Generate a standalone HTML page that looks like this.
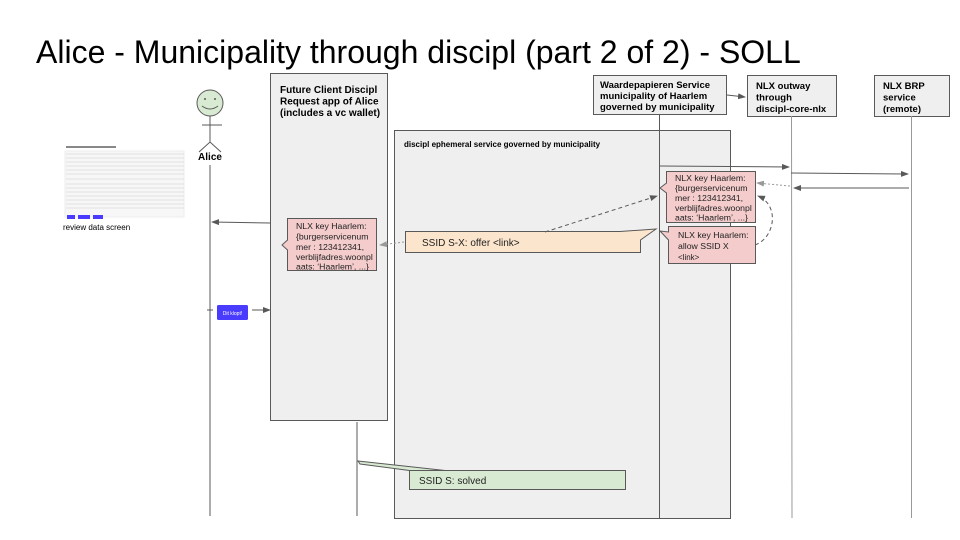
<!DOCTYPE html>
<html><head><meta charset="utf-8"><style>
html,body{margin:0;padding:0;background:#fff}
svg{display:block;font-family:"Liberation Sans",sans-serif}
</style></head><body>
<svg width="960" height="540" viewBox="0 0 960 540" xmlns="http://www.w3.org/2000/svg">
<defs>
<marker id="a" markerWidth="8" markerHeight="6" refX="7" refY="3" orient="auto"><path d="M0,0 L8,3 L0,6 z" fill="#595959"/></marker>
<marker id="g" markerWidth="8" markerHeight="6" refX="7" refY="3" orient="auto"><path d="M0,0 L8,3 L0,6 z" fill="#999"/></marker>
</defs>
<text x="36" y="63" font-size="32" fill="#000">Alice - Municipality through discipl (part 2 of 2) - SOLL</text>

<rect x="394.5" y="130.5" width="336" height="388" fill="#efefef" stroke="#595959"/>
<text x="404" y="147" font-size="8" font-weight="bold">discipl ephemeral service governed by municipality</text>

<rect x="270.5" y="73.5" width="117" height="347" fill="#efefef" stroke="#595959"/>
<text font-size="10" font-weight="bold"><tspan x="280" y="93">Future Client Discipl</tspan><tspan x="280" y="104.5">Request app of Alice</tspan><tspan x="280" y="116">(includes a vc wallet)</tspan></text>
<line x1="357" y1="422" x2="357" y2="516" stroke="#595959"/>

<circle cx="210" cy="103" r="13" fill="#d9ead3" stroke="#595959"/>
<circle cx="205" cy="99" r="1" fill="#595959"/><circle cx="215" cy="99" r="1" fill="#595959"/>
<path d="M202,106 Q210,112 218,106" fill="none" stroke="#595959"/>
<line x1="210" y1="116" x2="210" y2="142" stroke="#595959"/>
<line x1="202" y1="125" x2="222" y2="125" stroke="#595959"/>
<path d="M199,152 L210,142 L221,152" fill="none" stroke="#595959"/>
<text x="210" y="160" font-size="10" font-weight="bold" text-anchor="middle">Alice</text>
<line x1="210" y1="165" x2="210" y2="516" stroke="#595959"/>

<rect x="66" y="146" width="50" height="2" fill="#888"/>
<rect x="65" y="151" width="119" height="66" fill="#f7f7f7" stroke="#eee"/>
<g stroke="#ccc" stroke-width="0.6">
<line x1="66" y1="154" x2="184" y2="154"/><line x1="66" y1="158" x2="184" y2="158"/><line x1="66" y1="162" x2="184" y2="162"/><line x1="66" y1="166" x2="184" y2="166"/><line x1="66" y1="170" x2="184" y2="170"/><line x1="66" y1="174" x2="184" y2="174"/><line x1="66" y1="179" x2="184" y2="179"/><line x1="66" y1="184" x2="184" y2="184"/><line x1="66" y1="188" x2="184" y2="188"/><line x1="66" y1="192" x2="184" y2="192"/><line x1="66" y1="196" x2="184" y2="196"/><line x1="66" y1="200" x2="184" y2="200"/><line x1="66" y1="204" x2="184" y2="204"/><line x1="66" y1="208" x2="184" y2="208"/>
</g>
<rect x="67" y="215" width="8" height="4" fill="#4a3cff"/><rect x="78" y="215" width="12" height="4" fill="#4a3cff"/><rect x="93" y="215" width="10" height="4" fill="#4a3cff"/>
<text x="63" y="230" font-size="8">review data screen</text>

<line x1="270" y1="223" x2="212" y2="222" stroke="#595959" marker-end="url(#a)"/>

<path d="M287.5,218.5 H376.5 V270.5 H287.5 V250 L282,245 L287.5,240 Z" fill="#f4cccc" stroke="#595959"/>
<text font-size="8.7" fill="#222"><tspan x="296" y="229">NLX key Haarlem:</tspan><tspan x="296" y="239.5">{burgerservicenum</tspan><tspan x="296" y="250">mer : 123412341,</tspan><tspan x="296" y="260">verblijfadres.woonpl</tspan><tspan x="296" y="269.5">aats: ‘Haarlem’, ...}</tspan></text>

<line x1="207" y1="310" x2="213" y2="310" stroke="#595959"/>
<rect x="217" y="305" width="31" height="15" rx="1.5" fill="#4a3cff"/>
<text x="232.5" y="315" font-size="5" fill="#fff" text-anchor="middle">Dit klopt!</text>
<line x1="252" y1="310" x2="270" y2="310" stroke="#595959" marker-end="url(#a)"/>

<rect x="593.5" y="75.5" width="133" height="39" fill="#efefef" stroke="#595959"/>
<text font-size="9.5" font-weight="bold"><tspan x="600" y="88">Waardepapieren Service</tspan><tspan x="600" y="99">municipality of Haarlem</tspan><tspan x="600" y="110">governed by municipality</tspan></text>
<line x1="659.5" y1="114" x2="659.5" y2="518" stroke="#595959"/>
<line x1="727" y1="95" x2="745" y2="97" stroke="#595959" marker-end="url(#a)"/>

<rect x="747.5" y="75.5" width="89" height="41" fill="#efefef" stroke="#595959"/>
<text font-size="9.5" font-weight="bold"><tspan x="756" y="89">NLX outway</tspan><tspan x="756" y="100.5">through</tspan><tspan x="756" y="112">discipl-core-nlx</tspan></text>
<line x1="791.5" y1="116" x2="792" y2="518" stroke="#999"/>

<rect x="874.5" y="75.5" width="75" height="41" fill="#efefef" stroke="#595959"/>
<text font-size="9.5" font-weight="bold"><tspan x="883" y="89">NLX BRP</tspan><tspan x="883" y="100.5">service</tspan><tspan x="883" y="112">(remote)</tspan></text>
<line x1="911.5" y1="116" x2="911.5" y2="518" stroke="#999"/>

<line x1="660" y1="166" x2="789" y2="167" stroke="#595959" marker-end="url(#a)"/>
<line x1="791" y1="173" x2="908" y2="174" stroke="#595959" marker-end="url(#a)"/>
<line x1="909" y1="188" x2="794" y2="188" stroke="#595959" marker-end="url(#a)"/>
<line x1="790" y1="186" x2="757" y2="183" stroke="#999" stroke-dasharray="2,2" marker-end="url(#g)"/>

<path d="M666.5,171.5 H755.5 V222.5 H666.5 V193 L660,188 L666.5,183 Z" fill="#f4cccc" stroke="#595959"/>
<text font-size="8.7" fill="#222"><tspan x="675" y="181">NLX key Haarlem:</tspan><tspan x="675" y="191">{burgerservicenum</tspan><tspan x="675" y="201">mer : 123412341,</tspan><tspan x="675" y="211">verblijfadres.woonpl</tspan><tspan x="675" y="220.5">aats: ‘Haarlem’, ...}</tspan></text>

<path d="M668.5,226.5 H755.5 V263.5 H668.5 V240 L660,231 L668.5,232 Z" fill="#f4cccc" stroke="#595959"/>
<text font-size="8.7" fill="#222"><tspan x="678" y="238">NLX key Haarlem:</tspan><tspan x="678" y="249">allow SSID X</tspan><tspan x="678" y="260" font-size="8">&lt;link&gt;</tspan></text>

<path d="M405.5,231.5 H620 L656,229 L640.5,240 V252.5 H405.5 Z" fill="#fce5cd" stroke="#595959"/>
<text x="422" y="246" font-size="10" fill="#222">SSID S-X: offer &lt;link&gt;</text>

<line x1="404" y1="242" x2="380" y2="245" stroke="#999" stroke-dasharray="2,2" marker-end="url(#g)"/>
<line x1="545" y1="232" x2="657" y2="196" stroke="#595959" stroke-dasharray="4,3" marker-end="url(#a)"/>
<path d="M755,245 C775,238 780,205 758,196" fill="none" stroke="#595959" stroke-dasharray="4,3" marker-end="url(#a)"/>

<path d="M358,461 L445,470.5 H409.5 L360,464 Z" fill="#d9ead3" stroke="#595959"/>
<rect x="409.5" y="470.5" width="216" height="19" fill="#d9ead3" stroke="#595959"/>
<text x="419" y="484" font-size="10" fill="#222">SSID S:  solved</text>
</svg>
</body></html>
